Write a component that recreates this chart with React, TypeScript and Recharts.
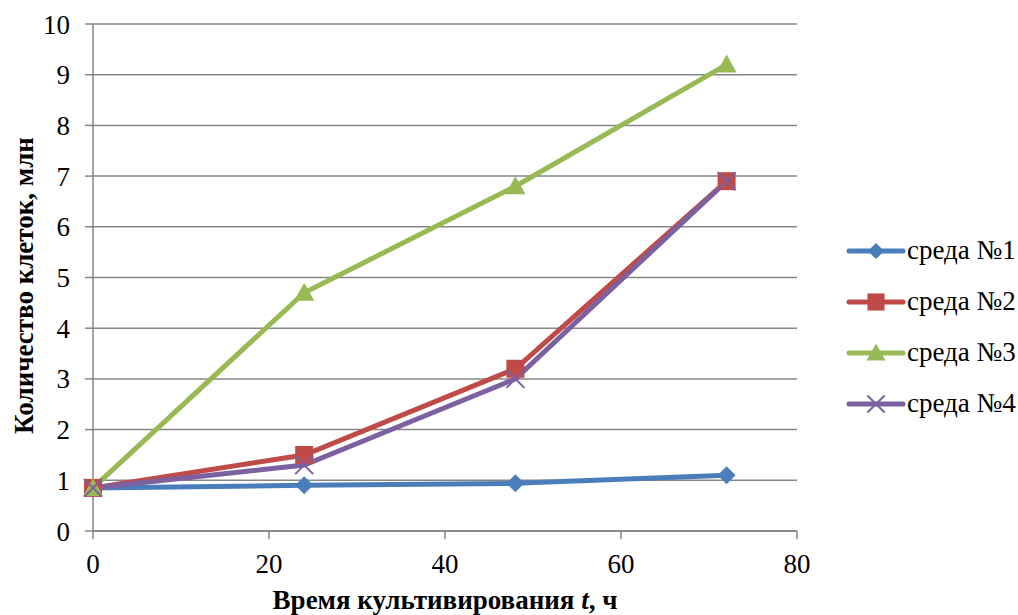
import { LineChart, Line, XAxis, YAxis, CartesianGrid, Legend } from 'recharts';

const hours = [0, 24, 48, 72];
const medium1 = [0.85, 0.9, 0.94, 1.1];
const medium2 = [0.85, 1.5, 3.2, 6.9];
const medium3 = [0.85, 4.7, 6.8, 9.2];
const medium4 = [0.85, 1.3, 3.0, 6.9];
const seriesNames = ['среда №1', 'среда №2', 'среда №3', 'среда №4'];
const xTicks = [0, 20, 40, 60, 80];
const yTicks = [0, 1, 2, 3, 4, 5, 6, 7, 8, 9, 10];

const data = hours.map((h, i) => ({
    t: h,
    s1: medium1[i],
    s2: medium2[i],
    s3: medium3[i],
    s4: medium4[i],
}));

const colors = ['#4A7EBB', '#BE4B48', '#98B954', '#7D60A0'];
const font = 'Liberation Serif';
const fs = 27;

type Shape = 'diamond' | 'square' | 'triangle' | 'cross';

function Marker({ cx, cy, shape, color, scale = 1 }: { cx: number; cy: number; shape: Shape; color: string; scale?: number }) {
    const r = 9 * scale;
    if (shape === 'diamond') {
        return <polygon points={`${cx},${cy - r} ${cx + r},${cy} ${cx},${cy + r} ${cx - r},${cy}`} fill={color} />;
    }
    if (shape === 'square') {
        return <rect x={cx - r} y={cy - r} width={r * 2} height={r * 2} fill={color} />;
    }
    if (shape === 'triangle') {
        return <polygon points={`${cx},${cy - r - 1} ${cx + r + 1},${cy + r - 1} ${cx - r - 1},${cy + r - 1}`} fill={color} />;
    }
    return (
        <g stroke={color} strokeWidth={2}>
            <line x1={cx - r} y1={cy - r} x2={cx + r} y2={cy + r} />
            <line x1={cx - r} y1={cy + r} x2={cx + r} y2={cy - r} />
        </g>
    );
}

const shapes: Shape[] = ['diamond', 'square', 'triangle', 'cross'];

const makeDot = (shape: Shape, color: string) => (props: any) => {
    const { cx, cy, index } = props;
    return <Marker key={`${shape}-${index}`} cx={cx} cy={cy} shape={shape} color={color} />;
};

function LegendBox() {
    return (
        <div style={{ width: 175, fontFamily: font, fontSize: fs, color: '#000' }}>
            {seriesNames.map((name, i) => (
                <div key={name} style={{ display: 'flex', alignItems: 'center', height: 51, whiteSpace: 'nowrap' }}>
                    <svg width={62} height={24} style={{ flexShrink: 0 }}>
                        <line x1={4} y1={12} x2={58} y2={12} stroke={colors[i]} strokeWidth={5} strokeLinecap="round" />
                        <Marker cx={31} cy={12} shape={shapes[i]} color={colors[i]} scale={i === 0 ? 0.9 : 0.95} />
                    </svg>
                    <span>{name}</span>
                </div>
            ))}
        </div>
    );
}

function XLabel(props: any) {
    const { viewBox } = props;
    const cx = viewBox.x + viewBox.width / 2;
    return (
        <text x={cx} y={609} textAnchor="middle" style={{ fontFamily: font }} fontSize={fs} fontWeight="bold" fill="#000">
            Время культивирования <tspan fontStyle="italic">t</tspan>, ч
        </text>
    );
}

function YLabel(props: any) {
    const { viewBox } = props;
    const cy = viewBox.y + viewBox.height / 2 + 8;
    return (
        <text
            x={33}
            y={cy}
            transform={`rotate(-90, 33, ${cy})`}
            textAnchor="middle"
            style={{ fontFamily: font }}
            fontSize={fs}
            fontWeight="bold"
            fill="#000"
        >
            Количество клеток, млн
        </text>
    );
}

export default function App() {
    return (
        <div style={{ position: 'absolute', left: 0, top: 0, background: '#fff', fontFamily: font }}>
            <LineChart
                width={1018}
                height={615}
                data={data}
                margin={{ top: 24, right: 46, left: 0, bottom: 0 }}
                style={{ fontFamily: font }}
            >
                <CartesianGrid vertical={false} stroke="#868686" strokeWidth={1.5} />
                <XAxis
                    dataKey="t"
                    type="number"
                    domain={[0, 80]}
                    ticks={xTicks}
                    height={84}
                    stroke="#868686"
                    strokeWidth={1.5}
                    tickSize={8}
                    tickMargin={15}
                    tick={{ fill: '#000', fontSize: fs, fontFamily: font }}
                    label={<XLabel />}
                />
                <YAxis
                    type="number"
                    domain={[0, 10]}
                    ticks={yTicks}
                    width={93}
                    stroke="#868686"
                    strokeWidth={1.5}
                    tickSize={8}
                    tickMargin={15}
                    interval={0}
                    tick={{ fill: '#000', fontSize: fs, fontFamily: font }}
                    label={<YLabel />}
                />
                <Legend
                    layout="vertical"
                    align="right"
                    verticalAlign="middle"
                    content={<LegendBox />}
                    wrapperStyle={{ left: 845, top: 225 }}
                />
                {['s1', 's2', 's3', 's4'].map((key, i) => (
                    <Line
                        key={key}
                        dataKey={key}
                        name={seriesNames[i]}
                        stroke={colors[i]}
                        strokeWidth={5}
                        dot={makeDot(shapes[i], colors[i])}
                        isAnimationActive={false}
                    />
                ))}
            </LineChart>
        </div>
    );
}
